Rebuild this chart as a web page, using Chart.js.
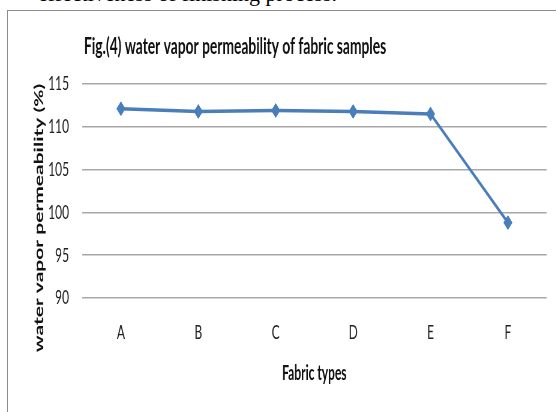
<!DOCTYPE html>
<html><head><meta charset="utf-8">
<script src="https://cdn.jsdelivr.net/npm/chart.js@4.4.1/dist/chart.umd.min.js"></script>
<style>
html,body{margin:0;padding:0;background:#fff;overflow:hidden;width:556px;height:412px;}
#page{position:relative;width:556px;height:412px;overflow:hidden;background:#fff;}
#frame{position:absolute;left:7px;top:10px;width:560px;height:410px;border-left:1px solid #8c8c8c;border-top:1px solid #8c8c8c;}
#above{position:absolute;right:219px;top:-17px;font:22px 'Liberation Serif','Times New Roman',serif;line-height:22px;white-space:nowrap;color:#000;}
#wrap{position:absolute;left:0;top:0;height:412px;transform-origin:0 0;overflow:hidden;}
</style></head>
<body>
<div id="page">
  <div id="above">effectiveness of finishing process.</div>
  <div id="frame"></div>
  <div id="wrap"><canvas id="c"></canvas></div>
</div>
<script>
const categories = ['A', 'B', 'C', 'D', 'E', 'F'];
const permeability = [112.1, 111.8, 111.9, 111.8, 111.5, 98.8];
const yTicks = [90, 95, 100, 105, 110, 115];
const chartTitle = 'Fig.(4) water vapor permeability of fabric samples';
const yTitle = 'water vapor permeability (%)';
const xTitle = 'Fabric types';

const S = 0.6;
const wrap = document.getElementById('wrap');
wrap.style.width = Math.floor(556 / S) + 'px';
wrap.style.transform = 'scaleX(' + S + ')';

const titles = {
  id: 'titles',
  afterDraw(chart) {
    const ctx = chart.ctx;
    ctx.save();
    ctx.fillStyle = '#111';
    ctx.font = 'bold 23px Lato';
    ctx.textAlign = 'left';
    ctx.textBaseline = 'alphabetic';
    ctx.fillText(chartTitle, 84 / S, 54, 306 / S);
    ctx.translate(39 / S, 218);
    ctx.rotate(-Math.PI / 2);
    ctx.textAlign = 'center';
    ctx.textBaseline = 'middle';
    ctx.font = 'bold 21px Lato';
    ctx.fillText(yTitle, 0, 0, 270);
    ctx.restore();
  }
};

new Chart(document.getElementById('c'), {
  type: 'line',
  data: {
    labels: categories,
    datasets: [{
      data: permeability,
      borderColor: '#4a7ebb',
      backgroundColor: '#4a7ebb',
      borderWidth: 3.5,
      pointStyle: 'rectRot',
      pointRadius: 7,
      pointBackgroundColor: '#4a7ebb',
      pointBorderColor: '#4a7ebb',
      pointBorderWidth: 1,
      tension: 0,
      fill: false
    }]
  },
  options: {
    responsive: true,
    maintainAspectRatio: false,
    animation: false,
    devicePixelRatio: 1,
    layout: { padding: { left: 0, top: 84, right: 15, bottom: 0 } },
    plugins: { legend: { display: false }, tooltip: { enabled: false }, title: { display: false } },
    scales: {
      x: {
        type: 'category',
        offset: true,
        grid: { display: false, drawTicks: false },
        border: { display: false },
        ticks: { font: { family: 'Lato', size: 20 }, color: '#222', padding: 23 },
        title: { display: true, text: xTitle, font: { family: 'Lato', size: 20, weight: 'bold' }, color: '#111', padding: { top: 0, bottom: 26 } },
        afterFit(s) { s.height = 114; }
      },
      y: {
        min: 90, max: 115,
        afterBuildTicks(s) { s.ticks = yTicks.map(v => ({ value: v })); },
        grid: { color: '#a8a8a8', lineWidth: 1.5, drawTicks: false },
        border: { display: false },
        ticks: { font: { family: 'Lato', size: 20 }, color: '#222', padding: 22 },
        afterFit(s) { s.width = 137; }
      }
    }
  },
  plugins: [titles]
});
</script>
</body></html>
